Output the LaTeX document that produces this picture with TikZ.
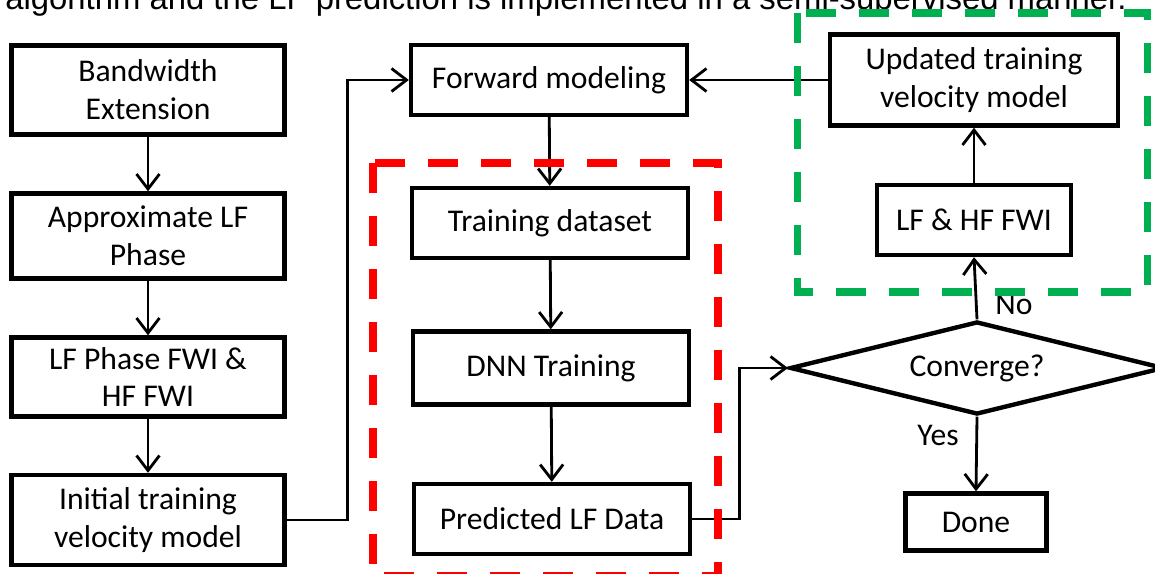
\documentclass[tikz,border=0pt]{standalone}
\usepackage{fontspec}
\setmainfont{Carlito}
\newfontfamily\arialfont{Liberation Sans}
\definecolor{BoxRed}{HTML}{FF0000}
\definecolor{BoxGreen}{HTML}{00B050}
\usetikzlibrary{arrows.meta, positioning, shapes.geometric}

\begin{document}
\begin{tikzpicture}[x=0.02cm, y=-0.02cm, >={Straight Barb[length=3mm, width=4.6mm]},
    block/.style={draw, line width=2.5pt, inner sep=0pt, align=center, font=\fontsize{18}{21.6}\selectfont},
    flow/.style={->, line width=1.6pt},
    frame/.style={line width=4pt, dash pattern=on 0.6cm off 0.46cm},
    lbl/.style={inner sep=0pt, font=\fontsize{18}{21.6}\selectfont}]
    \useasboundingbox (0,0) rectangle (1155,574);
    \clip (0,0) rectangle (1155,574);

    \node[anchor=base west, inner sep=0pt, font=\arialfont\fontsize{18.7}{22}\selectfont] (caption) at (5,10)
        {algorithm and the LF prediction is implemented in a semi-supervised manner.};

    \node[block, minimum width=5.46cm, minimum height=1.78cm] (bwe) at (148,90) {Bandwidth\\Extension};
    \node[block, minimum width=5.46cm, minimum height=1.70cm] (approx) at (148,236) {Approximate LF\\Phase};
    \node[block, minimum width=5.46cm, minimum height=1.58cm] (phasefwi) at (148,377) {LF Phase FWI \&\\HF FWI};
    \node[block, minimum width=5.46cm, minimum height=1.80cm] (init) at (148,520) {Initial training\\velocity model};

    \node[block, minimum width=5.52cm, minimum height=1.40cm] (fwd) at (549,80) {Forward modeling};
    \node[block, minimum width=5.52cm, minimum height=1.40cm] (dataset) at (550,223) {Training dataset};
    \node[block, minimum width=5.52cm, minimum height=1.46cm] (dnn) at (551,368) {DNN Training};
    \node[block, minimum width=5.52cm, minimum height=1.40cm] (pred) at (552,519) {Predicted LF Data};

    \node[block, minimum width=5.76cm, minimum height=1.82cm] (updated) at (974,80) {Updated training\\velocity model};
    \node[block, minimum width=3.88cm, minimum height=1.40cm] (lfhf) at (974,220) {LF \& HF FWI};
    \node[block, diamond, aspect=4, minimum width=7.48cm, minimum height=1.86cm] (conv) at (977,368) {Converge?};
    \node[block, minimum width=2.82cm, minimum height=1.14cm] (done) at (976,522) {Done};

    \draw[flow] (bwe) -- (approx);
    \draw[flow] (approx) -- (phasefwi);
    \draw[flow] (phasefwi) -- (init);
    \draw[flow] (init.east) -- ++(61,0) |- (fwd.west);
    \draw[flow] (fwd) -- (dataset);
    \draw[flow] (dataset) -- (dnn);
    \draw[flow] (dnn) -- (pred);
    \draw[flow] (pred.east) -- ++(47,0) |- (conv.west);
    \draw[flow] (conv.north) -- (lfhf.south);
    \draw[flow] (lfhf) -- (updated);
    \draw[flow] (updated) -- (fwd);
    \draw[flow] (conv.south) -- (done.north);

    \node[lbl] (no) at (1014,304) {No};
    \node[lbl] (yes) at (938,435) {Yes};

    \draw[frame, BoxRed] (373,163) rectangle (718,576);
    \draw[frame, BoxGreen] (797,13) rectangle (1147,292);
\end{tikzpicture}
\end{document}
